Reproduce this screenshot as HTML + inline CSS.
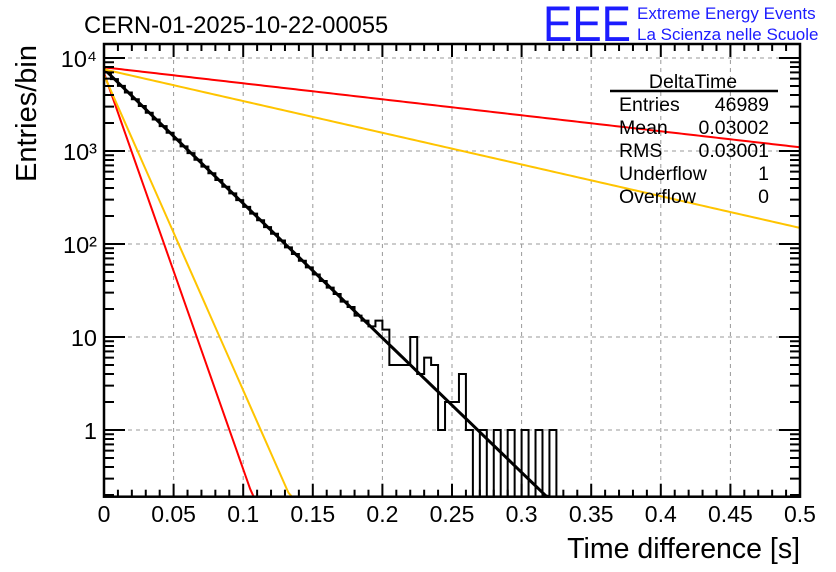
<!DOCTYPE html>
<html><head><meta charset="utf-8"><style>
html,body{margin:0;padding:0;background:#fff;}
svg{display:block;font-family:"Liberation Sans",sans-serif;}
</style></head><body>
<svg id="c" width="836" height="572" viewBox="0 0 836 572">
<text x="84" y="33" font-size="23.7">CERN-01-2025-10-22-00055</text>
<text x="543" y="41" font-size="50" fill="#1c1cff" textLength="88" lengthAdjust="spacingAndGlyphs">EEE</text>
<text x="637" y="19" font-size="17" fill="#1c1cff">Extreme Energy Events</text>
<text x="637" y="40" font-size="17" fill="#1c1cff">La Scienza nelle Scuole</text>
<g id="grid"></g>
<g id="marks"></g>
<g id="axes"></g>
<g font-size="19.5">
<text x="693" y="88" text-anchor="middle">DeltaTime</text>
<line x1="610" y1="91" x2="778" y2="91" stroke="#000" stroke-width="2.5"/>
<text x="619" y="111">Entries</text><text x="769" y="111" text-anchor="end">46989</text>
<text x="619" y="134">Mean</text><text x="769" y="134" text-anchor="end">0.03002</text>
<text x="619" y="157">RMS</text><text x="769" y="157" text-anchor="end">0.03001</text>
<text x="619" y="180">Underflow</text><text x="769" y="180" text-anchor="end">1</text>
<text x="619" y="203">Overflow</text><text x="769" y="203" text-anchor="end">0</text>
</g>
<text x="800" y="558" font-size="28.5" text-anchor="end">Time difference [s]</text>
<text transform="translate(36,45) rotate(-90)" font-size="29" text-anchor="end">Entries/bin</text>
</svg>
<script>
const binCounts = [7000,5930,5020,4250,3600,3050,2580,2180,1850,1570,1330,1120,950,805,680,577,488,413,350,296,251,212,180,152,129,109,92,78,66,56,47,40,34,29,24,21,17,15,13,15,12,5,5,5,10,4,6,5,1,2,2,4,1,0,1,0,1,0,1,0,1,0,1,0,1,0,0,0,0,0,0,0,0,0,0,0,0,0,0,0,0,0,0,0,0,0,0,0,0,0,0,0,0,0,0,0,0,0,0,0];
const binWidth = 0.005;
const fitLog10Amp = [3.882, 3.90, 3.878, 3.839, 3.817];
const fitLog10Slope = [14.46, 1.72, 3.41, 42.6, 33.9];
const fitColors = ["#000","#ff0000","#ffc400","#ff0000","#ffc400"];
const fitNames = ["fit-total","fit-red-slow","fit-orange-slow","fit-red-fast","fit-orange-fast"];
const xTicks = ["0","0.05","0.1","0.15","0.2","0.25","0.3","0.35","0.4","0.45","0.5"];
const yDecades = [0,1,2,3,4];
const yLabels = ["1","10","10²","10³","10⁴"];

const NS="http://www.w3.org/2000/svg";
const L=104,R=800,T=44,B=496.7;
const X0=0,X1=0.5,LOGMIN=-0.717,LOGMAX=4.15;
const xs=v=>L+(v-X0)/(X1-X0)*(R-L);
const ys=lg=>{const y=430-lg*93;return Math.max(T,Math.min(B,y));};
const yv=v=>v>0?ys(Math.log10(v)):B;
function mk(tag,attrs,parent){const e=document.createElementNS(NS,tag);for(const k in attrs)e.setAttribute(k,attrs[k]);parent.appendChild(e);return e;}
const grid=document.getElementById('grid'),marks=document.getElementById('marks'),axes=document.getElementById('axes');
xTicks.forEach((t,i)=>{const v=i*0.05;if(i==0||i==10)return;const g=mk('line',{x1:xs(v),x2:xs(v),y1:T,y2:B,stroke:'#999','stroke-dasharray':'4,4','stroke-width':1},grid);

});
yDecades.forEach(d=>{const g=mk('line',{x1:L,x2:R,y1:ys(d),y2:ys(d),stroke:'#999','stroke-dasharray':'4,4','stroke-width':1},grid);

});
let p='M'+xs(0)+','+B;
binCounts.forEach((c,i)=>{const x0=xs(i*binWidth),x1=xs((i+1)*binWidth),y=yv(c);p+=' L'+x0+','+y+' L'+x1+','+y;});
p+=' L'+xs(binCounts.length*binWidth)+','+B;
const h=mk('path',{d:p,fill:'none',stroke:'#000','stroke-width':2},marks);


fitLog10Amp.forEach((a,k)=>{let d='';for(let i=0;i<=200;i++){const t=i*0.0025;const lg=a-fitLog10Slope[k]*t;if(lg<LOGMIN-0.05)break;d+=(d?' L':'M')+xs(t)+','+ys(lg);}
const f=mk('path',{d:d,fill:'none',stroke:fitColors[k],'stroke-width':k==0?3:2},marks);

});
const fr=mk('rect',{x:L,y:T,width:R-L,height:B-T,fill:'none',stroke:'#000','stroke-width':2.5},axes);


for(let i=0;i<=50;i++){const v=i*0.01,x=xs(v);const len=(i%5==0)?13:7;
mk('line',{x1:x,x2:x,y1:B,y2:B-len,stroke:'#000','stroke-width':2},axes);
mk('line',{x1:x,x2:x,y1:T,y2:T+len,stroke:'#000','stroke-width':2},axes);}
xTicks.forEach((t,i)=>{const e=mk('text',{x:xs(i*0.05),y:522,'font-size':23,'text-anchor':'middle'},axes);e.textContent=t;

});
for(let d=-1;d<=4;d++){for(let m=1;m<=9;m++){const lg=d+Math.log10(m);if(lg<LOGMIN||lg>LOGMAX)continue;const y=ys(lg);const len=m==1?21:10;
mk('line',{x1:L,x2:L+len,y1:y,y2:y,stroke:'#000','stroke-width':2},axes);
mk('line',{x1:R,x2:R-len,y1:y,y2:y,stroke:'#000','stroke-width':2},axes);}}
yDecades.forEach((d,i)=>{const e=mk('text',{x:97,y:ys(d)+9,'font-size':23.5,'text-anchor':'end'},axes);e.textContent=yLabels[i];

});
</script>
</body></html>
